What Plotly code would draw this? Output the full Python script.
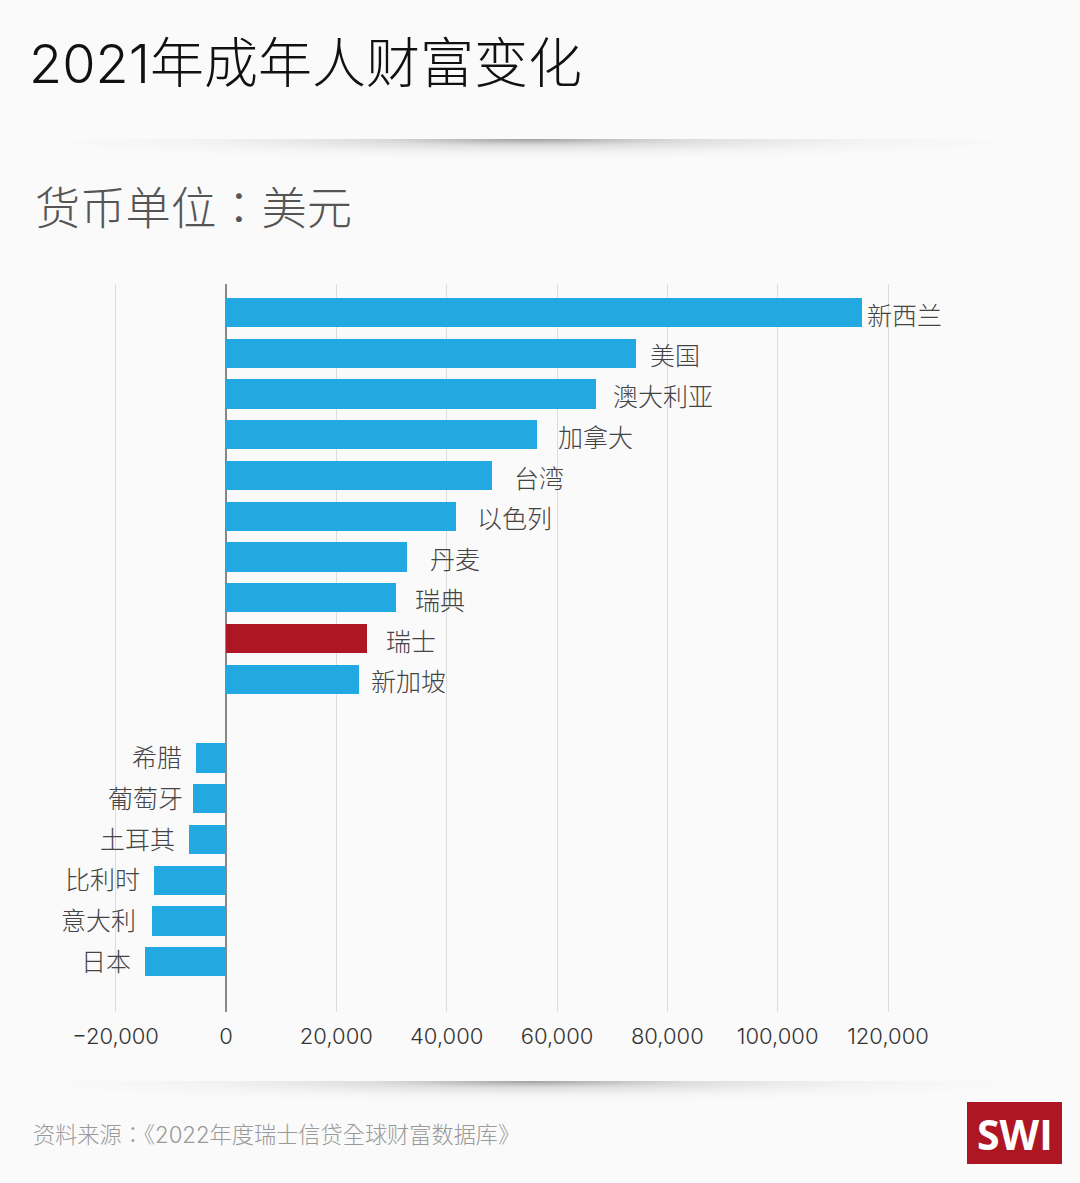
import base64
import plotly.graph_objects as go

W = 1080
H = 1183

# countries that gained
up_names = ["新西兰", "美国", "澳大利亚", "加拿大", "台湾", "以色列", "丹麦", "瑞典", "瑞士", "新加坡"]
up_values = [115300, 74300, 67050, 56400, 48200, 41700, 32800, 30800, 25600, 24100]
# countries that lost
down_names = ["希腊", "葡萄牙", "土耳其", "比利时", "意大利", "日本"]
down_values = [-5400, -6000, -6700, -13000, -13400, -14700]

x_ticks = [-20000, 0, 20000, 40000, 60000, 80000, 100000, 120000]

# labels in the original are hand placed, gap to the bar end in px
up_gaps = [3, 12, 15, 19, 20, 19, 21, 17, 17, 10]
down_gaps = [12, 8, 12, 12, 14, 12]

BLUE = "#23a9e1"
RED = "#af1623"
BG = "#fafafa"
CJK = "Noto Sans CJK SC"
CJK_TC = "Noto Sans CJK TC"  # centred colon like the original
TICK_FONT = "Inter"


def shadow(cx, rx, ry):
    svg = (
        f'<svg xmlns="http://www.w3.org/2000/svg" width="{W}" height="{ry}" viewBox="0 0 {W} {ry}">'
        '<defs><radialGradient id="g" gradientUnits="userSpaceOnUse" '
        f'cx="0" cy="0" r="1" gradientTransform="translate({cx} 0) scale({rx} {ry})">'
        '<stop offset="0" stop-color="#777" stop-opacity="0.7"/>'
        '<stop offset="0.3" stop-color="#999" stop-opacity="0.3"/>'
        '<stop offset="0.65" stop-color="#bbb" stop-opacity="0.1"/>'
        '<stop offset="1" stop-color="#ddd" stop-opacity="0"/>'
        '</radialGradient></defs>'
        f'<rect width="{W}" height="{ry}" fill="url(#g)"/></svg>'
    )
    return "data:image/svg+xml;base64," + base64.b64encode(svg.encode()).decode()


def px(v):
    return v / W


def py(v):
    return 1 - v / H


fig = go.Figure()
up_colors = [RED if n == "瑞士" else BLUE for n in up_names]
fig.add_trace(go.Bar(x=up_values, y=up_names, orientation="h", width=0.72,
                     marker=dict(color=up_colors, line_width=0), yaxis="y"))
fig.add_trace(go.Bar(x=down_values, y=down_names, orientation="h", width=0.72,
                     marker=dict(color=BLUE, line_width=0), yaxis="y2"))

annos = []
for n, v, g in zip(up_names, up_values, up_gaps):
    annos.append(dict(x=v, y=n, yref="y", xref="x", text=n, showarrow=False, xanchor="left",
                      xshift=g, yshift=-1, font=dict(size=25, color="#444", family=CJK, weight=300)))
for n, v, g in zip(down_names, down_values, down_gaps):
    annos.append(dict(x=v, y=n, yref="y2", xref="x", text=n, showarrow=False, xanchor="right",
                      xshift=-g, yshift=2, font=dict(size=25, color="#444", family=CJK, weight=300)))

annos.append(dict(x=px(26.5), y=py(63), xref="paper", yref="paper", text="2021年成年人财富变化", showarrow=False,
                  xanchor="left", yanchor="middle",
                  font=dict(size=54, color="#111", family=f"{TICK_FONT}, {CJK}", weight=300)))
annos.append(dict(x=px(33), y=py(204.5), xref="paper", yref="paper", text="货币单位：美元", showarrow=False,
                  xanchor="left", yanchor="middle", font=dict(size=45.3, color="#555", family=CJK_TC, weight=300)))
annos.append(dict(x=px(31), y=py(1134), xref="paper", yref="paper",
                  text="资料来源：《2022年度瑞士信贷全球财富数据库》",
                  showarrow=False, xanchor="left", yanchor="middle",
                  font=dict(size=22.2, color="#999", family=f"{TICK_FONT}, {CJK_TC}", weight=300)))
annos.append(dict(x=px(1014.5), y=py(1134), xref="paper", yref="paper", text="<b>SWI</b>", showarrow=False,
                  xanchor="center", yanchor="middle", font=dict(size=41, color="white", family="Open Sans")))

shapes = [dict(type="rect", xref="paper", yref="paper", x0=px(967), x1=px(1062), y0=py(1164), y1=py(1102),
               fillcolor=RED, line_width=0)]

images = [dict(source=shadow(530, 530, 22), xref="paper", yref="paper", x=0, y=py(139), sizex=1, sizey=22 / H,
               sizing="stretch", xanchor="left", yanchor="top", layer="below"),
          dict(source=shadow(530, 530, 22), xref="paper", yref="paper", x=0, y=py(1081), sizex=1, sizey=22 / H,
               sizing="stretch", xanchor="left", yanchor="top", layer="below")]

# 0 sits at 226px, 120000 at 888px
scale = (888 - 226) / 120000
top, bottom = 284, 1012
pitch = 40.75
up_first = 312.5
down_first = 758

fig.update_layout(
    width=W, height=H, margin=dict(l=0, r=0, t=0, b=0), showlegend=False,
    paper_bgcolor=BG, plot_bgcolor=BG, bargap=0,
    annotations=annos, shapes=shapes, images=images,
    xaxis=dict(range=[-226 / scale, (W - 226) / scale], tickvals=x_ticks, tickformat=",",
               showgrid=True, gridcolor="#dcdcdc", gridwidth=1,
               zeroline=True, zerolinecolor="#888", zerolinewidth=1.5,
               ticks="outside", ticklen=5, tickcolor="rgba(0,0,0,0)",
               tickfont=dict(size=22, color="#333", family=TICK_FONT, weight=300), showline=False),
    yaxis=dict(domain=[py(bottom), py(top)], type="category", categoryorder="array", categoryarray=up_names,
               range=[(bottom - up_first) / pitch, (top - up_first) / pitch],
               showticklabels=False, showgrid=False, zeroline=False, ticks=""),
    yaxis2=dict(domain=[py(bottom), py(top)], overlaying="y", type="category", categoryorder="array",
                categoryarray=down_names,
                range=[(bottom - down_first) / pitch, (top - down_first) / pitch],
                showticklabels=False, showgrid=False, zeroline=False, ticks=""),
)

fig.write_html("out.html", post_script="document.body.style.margin='0';", config=dict(displayModeBar=False))
